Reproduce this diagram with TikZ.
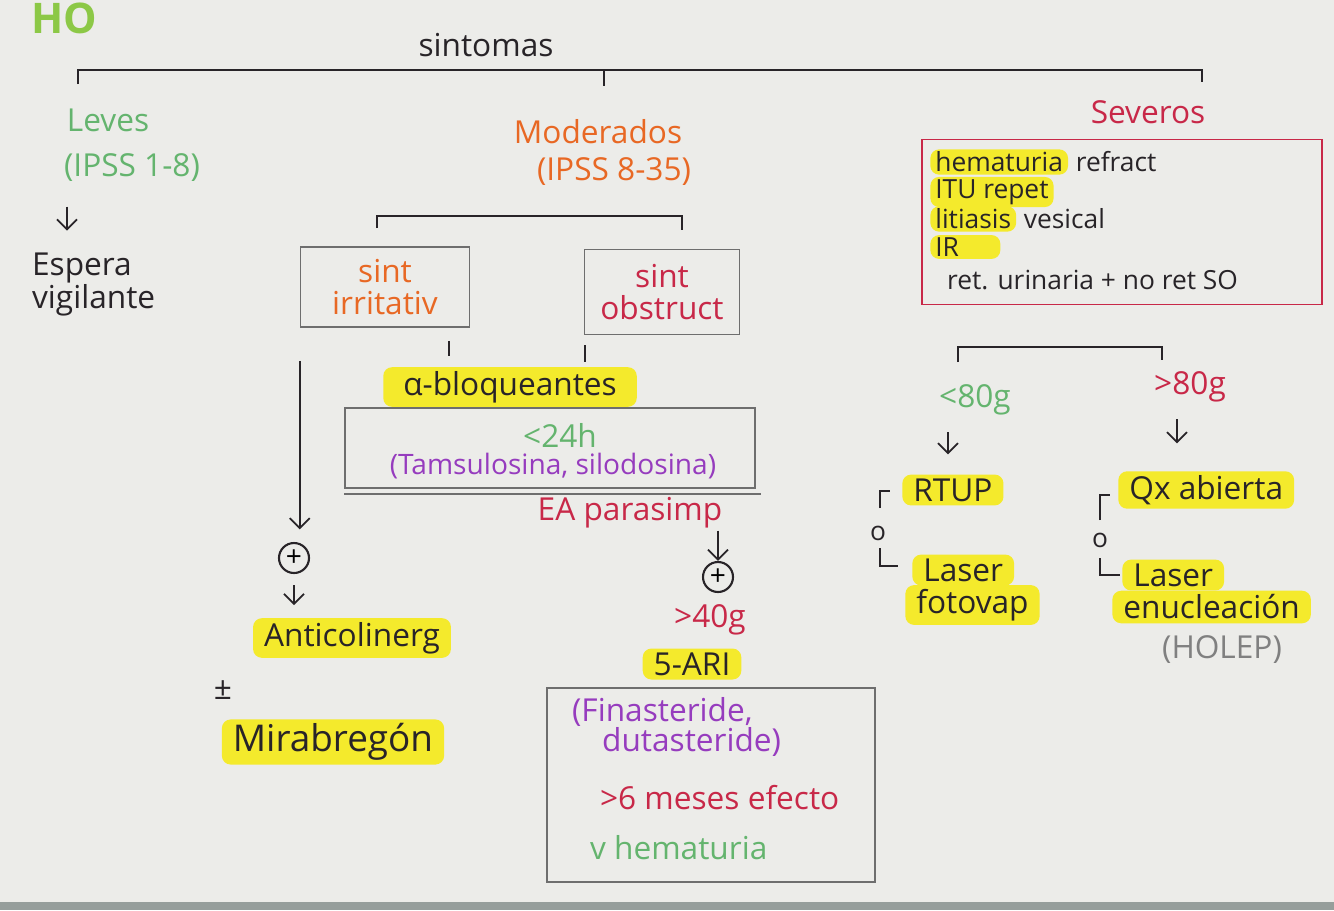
\documentclass[tikz,border=0pt]{standalone}
\usepackage{fontspec}
\setmainfont{Open Sans}
\usetikzlibrary{positioning,arrows.meta,calc}
\definecolor{paper}{RGB}{236,236,233}
\definecolor{tablegray}{RGB}{150,158,155}
\definecolor{ink}{RGB}{40,36,40}
\definecolor{lime}{RGB}{140,200,70}
\definecolor{leaf}{RGB}{100,180,110}
\definecolor{tang}{RGB}{232,104,36}
\definecolor{crim}{RGB}{200,40,72}
\definecolor{plum}{RGB}{150,60,190}
\definecolor{hl}{RGB}{244,234,44}
\definecolor{boxgray}{RGB}{110,110,110}
\tikzset{
  hand/.style={font=\fontsize{18}{18}\selectfont, text=ink, inner sep=1pt},
  handsm/.style={hand, font=\fontsize{15}{15}\selectfont},
  marked/.style={hand, fill=hl, rounded corners=5pt, inner xsep=0.22cm, inner ysep=0.08cm},
  markedsm/.style={marked, font=\fontsize{15}{15}\selectfont, inner xsep=0.1cm, inner ysep=0.05cm},
  framebox/.style={draw=boxgray, line width=0.9pt},
  bracket/.style={draw=ink, line width=1.3pt},
  tickline/.style={draw=ink, line width=1pt},
  orline/.style={draw=ink, line width=1.1pt},
  flowarrow/.style={-{Straight Barb[length=2mm]}, line width=1pt, draw=ink},
  plusnode/.style={draw=ink, circle, line width=1.2pt, minimum size=0.6cm, inner sep=0pt, font=\fontsize{16}{16}\selectfont}
}

\begin{document}
\begin{tikzpicture}[x=0.02cm, y=-0.02cm]
\useasboundingbox (0,0) rectangle (1334,910);
\fill[paper] (0,0) rectangle (1334,910);
\fill[tablegray] (0,902) rectangle (1334,910);

% titulo y llave principal
\node[hand, font=\bfseries\fontsize{24}{24}\selectfont, text=lime] (tema) at (64,18) {HO};
\node[hand] (sint) at (486,45) {sintomas};
\coordinate (llaveL) at (78,84);
\coordinate (llaveR) at (1202,82);
\coordinate (llaveM) at (604,70);
\draw[bracket] (llaveL) -- ++(0,-14) -| (llaveR);
\draw[bracket] (llaveM) -- ++(0,16);

% leves
\node[hand, text=leaf] (leves) at (108,120) {Leves};
\node[hand, text=leaf] (lvipss) at (132,168) {(IPSS 1-8)};
\node[hand, anchor=west] (espera) at (30,268) {Espera};
\node[hand, anchor=west] (vigil) at (30,300) {vigilante};
\draw[flowarrow] ([xshift=-1.3cm, yshift=-0.45cm]lvipss.south) -- ++(0,24);

% moderados
\node[hand, text=tang] (mod) at (598,132) {Moderados};
\node[hand, text=tang] (modipss) at (614,172) {(IPSS 8-35)};
\coordinate (modL) at (377,228);
\coordinate (modR) at (682,230);
\draw[bracket] (modL) -- ++(0,-12) -| (modR);
\node[framebox, hand, text=tang, align=center, minimum width=3.38cm, minimum height=1.6cm] (irrit) at (385,287) {sint\\irritativ};
\node[framebox, hand, text=crim, align=center, minimum width=3.1cm, minimum height=1.7cm] (obstr) at (662,292) {sint\\obstruct};
\draw[tickline] ([xshift=-0.42cm, yshift=-0.26cm]irrit.south east) -- ++(0,15);
\draw[tickline] ([xshift=0.02cm, yshift=-0.2cm]obstr.south west) -- ++(0,17);

\node[marked, inner xsep=0.4cm] (alfa) at (510,387) {α-bloqueantes};
\node[framebox, minimum width=8.2cm, minimum height=1.6cm] (alfabox) at (550,448) {};
\draw[framebox] ([yshift=-0.1cm]alfabox.south west) -- ([xshift=0.1cm, yshift=-0.1cm]alfabox.south east);
\node[hand, text=leaf] (vida) at (560,435) {<24h};
\node[hand, text=plum, font=\fontsize{16}{16}\selectfont] (tamsu) at (553,466) {(Tamsulosina, silodosina)};

\node[hand, text=crim] (ea) at (630,513) {EA parasimp};
\node[plusnode] (plusB) at (718,577) {+};
\draw[flowarrow] (plusB.north |- ea.south) -- (plusB.north);
\node[hand, text=crim] (cuarenta) at (710,620) {>40g};
\node[marked] (ari) at (692,664) {5-ARI};
\node[framebox, minimum width=6.56cm, minimum height=3.88cm] (aribox) at (711,785) {};
\node[hand, text=plum, anchor=west] (fina) at (570,712) {(Finasteride,};
\node[hand, text=plum, anchor=west] (duta) at (600,742) {dutasteride)};
\node[hand, text=crim, anchor=west] (meses) at (598,798) {>6 meses efecto};
\node[hand, text=leaf, anchor=west] (hemat) at (588,848) {v hematuria};

% rama irritativa
\node[plusnode] (plusA) at (294,558) {+};
\draw[flowarrow, shorten >=0.25cm] ([yshift=-0.66cm]irrit.south west) -- (plusA.north -| irrit.south west);
\draw[flowarrow] ([yshift=-0.22cm]plusA.south) -- ++(0,20);
\node[marked] (anticol) at (352,638) {Anticolinerg};
\node[hand] (pm) at (223,690) {±};
\node[marked, font=\fontsize{21}{21}\selectfont] (mira) at (333,742) {Mirabregón};

% severos
\node[hand, text=crim] (sev) at (1148,112) {Severos};
\node[draw=crim, line width=1.1pt, minimum width=8cm, minimum height=3.3cm] (sevbox) at (1122,222) {};
\node[markedsm, anchor=west] (hema) at (930,162) {hematuria};
\node[handsm, right=3pt of hema] (refr) {refract};
\node[markedsm, anchor=west] (itu) at (930,192) {ITU repet};
\node[markedsm, anchor=west] (liti) at (930,219) {litiasis};
\node[handsm, right=3pt of liti] (vesi) {vesical};
\node[markedsm, anchor=west, text width=1.2cm, align=left] (ir) at (930,247) {IR};
\node[handsm, anchor=west] (ret) at (945,280) {ret. urinaria + no ret SO};

\coordinate (sevL) at (958,362);
\coordinate (sevR) at (1162,360);
\draw[bracket] (sevL) -- ++(0,-15) -| (sevR);
\node[hand, text=leaf] (menor) at (975,400) {<80g};
\node[hand, text=crim] (mayor) at (1190,387) {>80g};
\draw[flowarrow] ([xshift=-0.54cm, yshift=-0.3cm]menor.south) -- ++(0,22);
\draw[flowarrow] ([xshift=-0.26cm, yshift=-0.3cm]mayor.south) -- ++(0,24);

\node[marked, anchor=west] (rtup) at (902,490) {RTUP};
\node[marked, anchor=west] (laserA) at (912,570) {Laser};
\node[marked, anchor=west] (fotovap) at (905,605) {fotovap};
\node[handsm] (orA) at (878,533) {o};
\draw[orline] (orA) ++(2,-25) -- ++(0,-17) -- ++(10,0);
\draw[orline] (orA) ++(2,15) -- ++(0,18) -- ++(18,0);

\node[marked, anchor=west] (qx) at (1118,490) {Qx abierta};
\node[marked, anchor=west] (laserB) at (1122,575) {Laser};
\node[marked, anchor=west] (enuc) at (1112,607) {enucleación};
\node[hand, text=gray] (holep) at (1222,650) {(HOLEP)};
\node[handsm] (orB) at (1100,540) {o};
\draw[orline] (orB) ++(0,-20) -- ++(0,-25) -- ++(10,0);
\draw[orline] (orB) ++(0,18) -- ++(0,17) -- ++(20,0);
\end{tikzpicture}
\end{document}
